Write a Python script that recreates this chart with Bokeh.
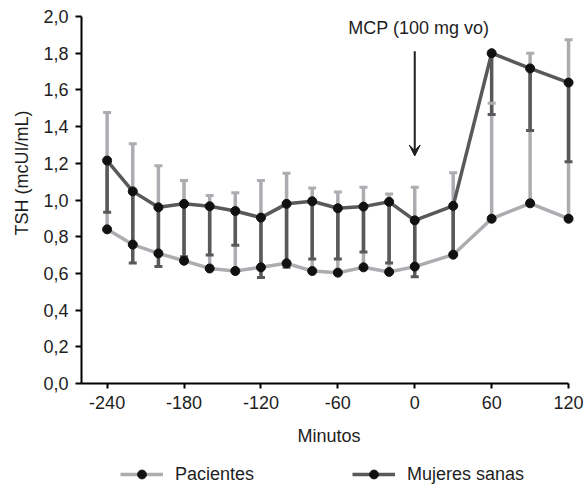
from bokeh.plotting import figure
from bokeh.layouts import column
from bokeh.models import (ColumnDataSource, Range1d, FixedTicker, Label, Arrow,
                          VeeHead, Legend, LegendItem)
from bokeh.embed import file_html
from bokeh.resources import INLINE

# ---- data ----
minutes = [-240, -220, -200, -180, -160, -140, -120, -100, -80, -60, -40, -20, 0, 30, 60, 90, 120]
pacientes_mean = [0.84, 0.757, 0.709, 0.669, 0.627, 0.613, 0.633, 0.655, 0.613, 0.604,
                  0.633, 0.608, 0.637, 0.702, 0.898, 0.982, 0.898]
pacientes_upper = [1.477, 1.306, 1.186, 1.106, 1.024, 1.039, 1.106, 1.146, 1.066, 1.044,
                   1.069, 1.033, 1.069, 1.149, 1.527, 1.80, 1.873]
mujeres_mean = [1.215, 1.047, 0.960, 0.979, 0.966, 0.940, 0.904, 0.979, 0.993, 0.955,
                0.964, 0.990, 0.889, 0.968, 1.80, 1.717, 1.640]
mujeres_lower = [0.933, 0.657, 0.637, 0.691, 0.700, 0.753, 0.578, 0.633, 0.679, 0.679,
                 0.717, 0.657, 0.582, 0.700, 1.466, 1.379, 1.209]

x_ticks = [-240, -180, -120, -60, 0, 60, 120]
x_tick_labels = ["-240", "-180", "-120", "-60", "0", "60", "120"]
y_ticks = [0.0, 0.2, 0.4, 0.6, 0.8, 1.0, 1.2, 1.4, 1.6, 1.8, 2.0]
y_tick_labels = ["0,0", "0,2", "0,4", "0,6", "0,8", "1,0", "1,2", "1,4", "1,6", "1,8", "2,0"]

series_labels = ["Pacientes", "Mujeres sanas"]
x_label = "Minutos"
y_label = "TSH (mcUI/mL)"
dose_label = "MCP (100 mg vo)"
dose_minute = 0
arrow_top = 1.81
arrow_tip = 1.24

# ---- styles ----
FONT = "Liberation Sans"
FS = "18px"
TXT = "#1e1e1e"
LIGHT = "#abadb0"
DARK = "#58595b"
DOT = "#111111"
W = 584

src = ColumnDataSource(dict(t=minutes, pm=pacientes_mean, pu=pacientes_upper,
                            mm=mujeres_mean, ml=mujeres_lower))

p = figure(width=W, height=461, output_backend="svg", toolbar_location=None,
           x_range=Range1d(-260, 126.2), y_range=Range1d(0, 2),
           min_border_left=81, min_border_right=8, min_border_top=16, min_border_bottom=78)
p.grid.visible = False
p.outline_line_color = None

for ax in (p.xaxis[0], p.yaxis[0]):
    ax.axis_line_width = 2
    ax.axis_line_color = "black"
    ax.major_tick_line_width = 2
    ax.major_tick_line_color = "black"
    ax.major_tick_in = 0
    ax.minor_tick_in = 0
    ax.minor_tick_out = 0
    ax.major_label_text_font = FONT
    ax.major_label_text_font_size = FS
    ax.major_label_text_color = TXT
    ax.axis_label_text_font = FONT
    ax.axis_label_text_font_size = FS
    ax.axis_label_text_font_style = "normal"
    ax.axis_label_text_color = TXT

p.xaxis.ticker = FixedTicker(ticks=x_ticks)
p.xaxis.major_label_overrides = {t: s for t, s in zip(x_ticks, x_tick_labels)}
p.xaxis.bounds = (-260, 120)
p.xaxis.major_tick_out = 5
p.xaxis.major_label_standoff = 7
p.xaxis.axis_label = x_label
p.xaxis.axis_label_standoff = 14

p.yaxis.ticker = FixedTicker(ticks=y_ticks)
p.yaxis.major_label_overrides = {t: s for t, s in zip(y_ticks, y_tick_labels)}
p.yaxis.major_tick_out = 6
p.yaxis.major_label_standoff = 7
# leading em-spaces move the (rotated) title upward, as in the reference
p.yaxis.axis_label = "\u2003\u2003\u2003" + y_label
p.yaxis.axis_label_standoff = 8

# error bars
p.segment(x0="t", y0="pm", x1="t", y1="pu", source=src, line_color=LIGHT, line_width=3.5)
p.segment(x0="t", y0="mm", x1="t", y1="ml", source=src, line_color=DARK, line_width=3.5)
p.scatter(x="t", y="pu", source=src, marker="dash", size=8, line_width=3, line_color=LIGHT)
p.scatter(x="t", y="ml", source=src, marker="dash", size=8, line_width=3, line_color=DARK)

# series
p.line(x="t", y="pm", source=src, line_color=LIGHT, line_width=3.5)
p.line(x="t", y="mm", source=src, line_color=DARK, line_width=3.5)
p.scatter(x="t", y="pm", source=src, marker="circle", size=9, fill_color=DOT, line_color=DOT)
p.scatter(x="t", y="mm", source=src, marker="circle", size=9, fill_color=DOT, line_color=DOT)

# dose annotation
p.add_layout(Arrow(x_start=dose_minute, y_start=arrow_top, x_end=dose_minute, y_end=arrow_tip,
                   line_width=2, line_color=TXT,
                   end=VeeHead(size=11, fill_color=TXT, line_color=TXT)))
p.add_layout(Label(x=dose_minute, y=1.94, text=dose_label, text_align="center",
                   text_baseline="alphabetic", x_offset=4, text_font=FONT,
                   text_font_size=FS, text_color=TXT))

# ---- legend strip: a small figure whose ranges hide the series, so only the legend shows ----
lg = figure(width=W, height=24, output_backend="svg", toolbar_location=None,
            x_range=Range1d(1000, 1001), y_range=Range1d(1000, 1001),
            x_axis_type=None, y_axis_type=None,
            min_border_left=81, min_border_right=8, min_border_top=0, min_border_bottom=0)
lg.grid.visible = False
lg.outline_line_color = None
ll1 = lg.line(x="t", y="pm", source=src, line_color=LIGHT, line_width=3.5)
lm1 = lg.scatter(x="t", y="pm", source=src, marker="circle", size=9, fill_color=DOT, line_color=DOT)
ll2 = lg.line(x="t", y="mm", source=src, line_color=DARK, line_width=3.5)
lm2 = lg.scatter(x="t", y="mm", source=src, marker="circle", size=9, fill_color=DOT, line_color=DOT)

legend = Legend(items=[LegendItem(label=series_labels[0], renderers=[ll1, lm1]),
                       LegendItem(label=series_labels[1], renderers=[ll2, lm2])],
                orientation="horizontal", location=(39, 0),
                glyph_width=43, glyph_height=22, label_height=22, label_standoff=12,
                spacing=98, padding=0, margin=0, border_line_color=None,
                background_fill_alpha=0, label_text_font=FONT,
                label_text_font_size=FS, label_text_color=TXT)
lg.add_layout(legend)

layout = column(p, lg, spacing=0)
open("out.html", "w").write(file_html(layout, INLINE))
